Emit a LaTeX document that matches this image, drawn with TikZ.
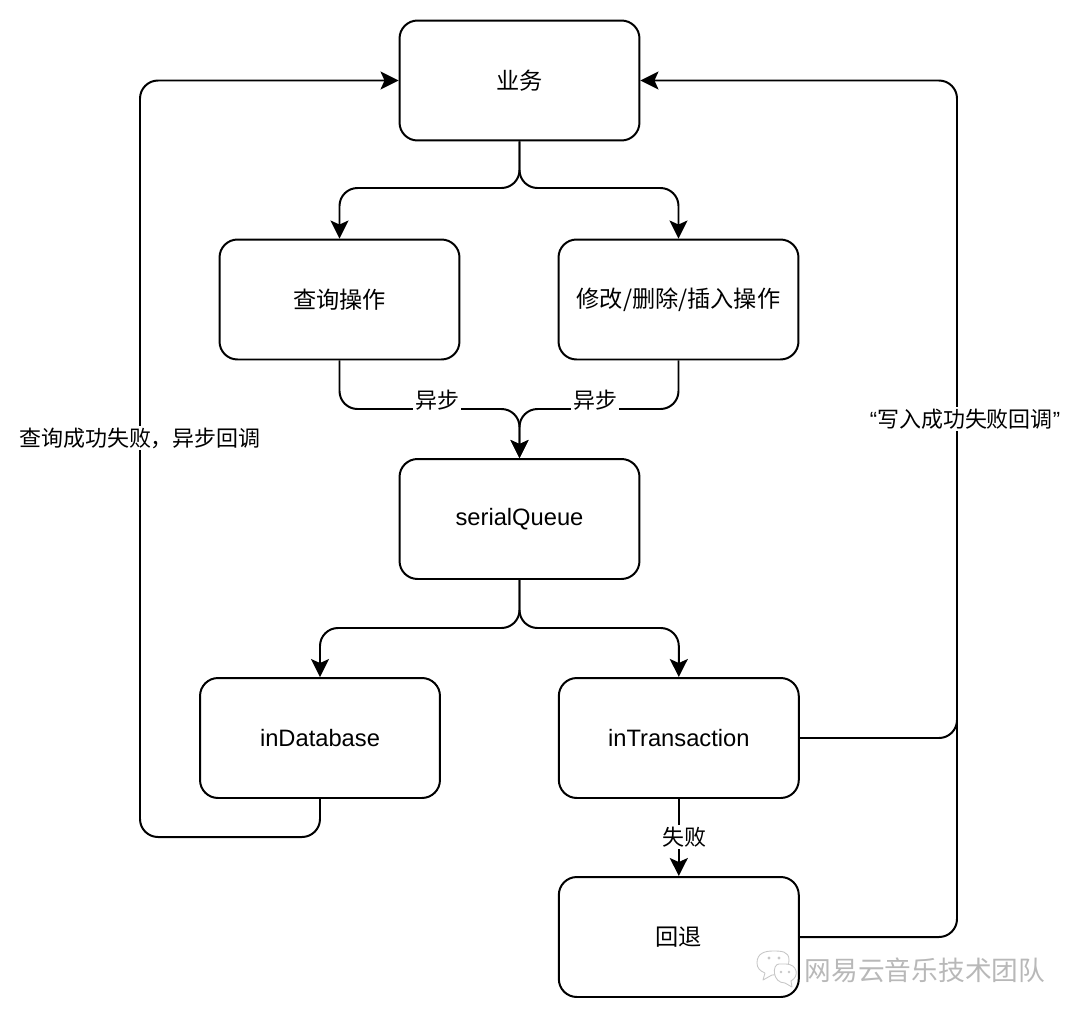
\documentclass[tikz,border=0pt]{standalone}
\usepackage{fontspec}
\setmainfont{Liberation Sans}
\newfontfamily\cjk{Noto Sans CJK SC}
\usetikzlibrary{arrows.meta}

\begin{document}
\begin{tikzpicture}[x=0.02cm, y=-0.02cm, line width=1.13pt,
	box/.style={draw, rounded corners=0.36cm, minimum width=4.8cm, minimum height=2.4cm, inner sep=0pt, font=\fontsize{13.5}{15}\selectfont},
	cjkbox/.style={box, font=\fontsize{13.2}{15}\selectfont\cjk},
	flow/.style={draw, rounded corners=0.36cm, -{Stealth[length=0.36cm, width=0.36cm, inset=0.08cm]}},
	plain/.style={draw, rounded corners=0.36cm},
	lbl/.style={fill=white, inner sep=1pt, font=\fontsize{12.5}{14}\selectfont\cjk},
	wmark/.style={text=black!28, font=\fontsize{15.2}{17}\selectfont\cjk, inner sep=0pt},
	bubble/.style={draw=black!22, fill=white, line width=0.5pt, line join=round},
	eye/.style={fill=black!22, draw=none}]
	\useasboundingbox (0,0) rectangle (1080,1018);

	\node[cjkbox] (yewu) at (519.5,80.5) {业务};
	\node[cjkbox] (chaxun) at (339.5,299.5) {查询操作};
	\node[cjkbox] (xiugai) at (678.5,299.5) {修改/删除/插入操作};
	\node[box] (queue) at (519.5,519) {serialQueue};
	\node[box] (indb) at (320,738) {inDatabase};
	\node[box] (intrans) at (678.8,738) {inTransaction};
	\node[cjkbox] (huitui) at (678.8,937) {回退};

	\coordinate (split1) at (519.5,188);
	\coordinate (merge) at (519.5,409);
	\coordinate (split2) at (519.5,628);
	\coordinate (left1) at (140,837);
	\coordinate (left2) at (140,80.5);
	\coordinate (right1) at (957,937);
	\coordinate (right2) at (957,80.5);
	\coordinate (right3) at (957,738);

	\draw[flow] (yewu.south) -- (split1) -| (chaxun.north);
	\draw[flow] (yewu.south) -- (split1) -| (xiugai.north);
	\draw[flow] (chaxun.south) |- (merge) -- (queue.north);
	\draw[flow] (xiugai.south) |- (merge) -- (queue.north);
	\draw[flow] (queue.south) -- (split2) -| (indb.north);
	\draw[flow] (queue.south) -- (split2) -| (intrans.north);
	\draw[flow] (indb.south) |- (left1) -- (left2) -- (yewu.west);
	\draw[flow] (huitui.east) -- (right1) -- (right2) -- (yewu.east);
	\draw[plain] (intrans.east) -- (right3) -- ++(0,-40);
	\draw[flow] (intrans.south) -- (huitui.north);

	\node[lbl] (yibu1) at (437,400) {异步};
	\node[lbl] (yibu2) at (595,400) {异步};
	\node[lbl] (chaxunlbl) at (140,438) {查询成功失败，异步回调};
	\node[lbl] (xierulbl) at (965,419) {{\rmfamily “}写入成功失败回调{\rmfamily ”}};
	\node[lbl] (shibai) at (684,837) {失败};

	% watermark
	\node[wmark] (shuiyin) at (925,970) {网易云音乐技术团队};
	\draw[bubble] (765,973) -- (763,980) -- (772,975) .. controls (782,975) and (789,968) .. (789,960) .. controls (789,951) and (781,951) .. (773,951) .. controls (765,951) and (757,953) .. (757,963) .. controls (757,968) and (760,971) .. (765,973);
	\draw[bubble] (779,964) .. controls (772,964) and (772,983) .. (785,983) -- (792,987) -- (791,981) .. controls (800,976) and (797,964) .. (786,964) -- cycle;
	\fill[eye] (769,958) circle (1.6);
	\fill[eye] (779,958) circle (1.6);
	\fill[eye] (781,972) circle (1.4);
	\fill[eye] (789,972) circle (1.4);
\end{tikzpicture}
\end{document}
